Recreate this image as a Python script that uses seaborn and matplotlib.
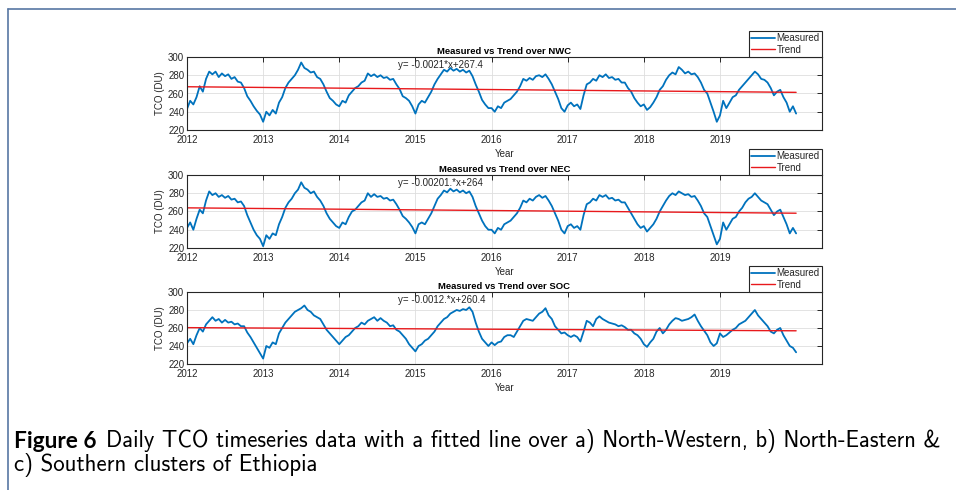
import numpy as np
import pandas as pd
import matplotlib
matplotlib.use("Agg")
import matplotlib.pyplot as plt
import seaborn as sns

# ---------------- data (semi-monthly readings, 2012.0 .. 2020.0) ----------------
nwc_values = [
    243, 252, 248, 256, 268, 262, 276, 284, 281, 284, 278, 282, 279, 281, 276, 278, 273, 272, 266, 257, 252, 246, 241, 237,
    229, 240, 236, 242, 238, 250, 256, 266, 272, 276, 280, 286, 294, 288, 286, 283, 284, 278, 276, 270, 262, 255, 252, 248,
    246, 252, 250, 258, 262, 266, 268, 272, 274, 282, 279, 281, 278, 280, 277, 278, 275, 276, 270, 265, 257, 255, 252, 246,
    238, 248, 252, 250, 256, 262, 270, 276, 281, 286, 284, 288, 285, 287, 284, 286, 283, 285, 279, 270, 262, 253, 248, 244,
    244, 240, 246, 244, 250, 252, 254, 258, 262, 268, 276, 274, 277, 275, 279, 280, 278, 281, 276, 270, 262, 254, 244, 240,
    247, 250, 246, 248, 243, 258, 270, 272, 276, 274, 280, 278, 281, 277, 278, 275, 276, 272, 272, 266, 262, 255, 250, 246,
    248, 242, 245, 250, 256, 264, 268, 275, 280, 283, 281, 289, 286, 282, 284, 281, 282, 278, 272, 264, 260, 250, 240, 229,
    236, 252, 244, 250, 256, 258, 264, 268, 272, 276, 280, 284, 281, 276, 275, 272, 266, 258, 262, 264, 256, 250, 240, 246, 238,
]
nec_values = [
    242, 248, 240, 252, 262, 258, 272, 282, 278, 280, 276, 278, 275, 277, 273, 274, 270, 271, 266, 256, 248, 240, 234, 230,
    222, 234, 230, 236, 234, 246, 254, 264, 270, 274, 280, 284, 292, 286, 284, 280, 282, 276, 272, 266, 258, 252, 248, 244,
    242, 248, 246, 254, 260, 262, 266, 270, 272, 280, 276, 279, 276, 277, 274, 275, 272, 273, 268, 262, 255, 252, 248, 243,
    236, 246, 248, 246, 252, 258, 266, 274, 278, 283, 281, 285, 282, 284, 281, 283, 280, 282, 276, 266, 258, 250, 244, 240,
    240, 236, 242, 240, 246, 248, 250, 254, 258, 264, 272, 270, 274, 272, 276, 278, 275, 277, 272, 266, 258, 250, 240, 236,
    244, 246, 242, 244, 240, 256, 268, 270, 274, 272, 278, 276, 278, 274, 275, 272, 273, 270, 270, 264, 258, 252, 246, 242,
    244, 238, 242, 246, 252, 260, 266, 272, 277, 280, 278, 282, 280, 278, 279, 276, 277, 272, 266, 258, 254, 244, 234, 224,
    230, 248, 240, 246, 252, 254, 260, 264, 270, 274, 276, 280, 276, 272, 270, 268, 262, 256, 260, 262, 254, 246, 236, 242, 236,
]
soc_values = [
    243, 248, 242, 252, 260, 256, 264, 268, 272, 268, 270, 266, 269, 266, 267, 264, 265, 262, 262, 255, 250, 244, 238, 232,
    226, 240, 238, 244, 242, 254, 260, 266, 270, 274, 278, 280, 282, 285, 280, 278, 274, 272, 270, 264, 258, 254, 250, 246,
    242, 246, 250, 252, 256, 260, 262, 266, 264, 268, 270, 272, 268, 271, 268, 266, 262, 263, 258, 256, 252, 248, 242, 238,
    234, 240, 242, 246, 248, 252, 256, 262, 266, 270, 272, 276, 278, 280, 279, 281, 280, 283, 278, 266, 256, 248, 244, 240,
    244, 241, 244, 245, 250, 252, 252, 250, 256, 262, 268, 270, 269, 268, 272, 276, 278, 282, 274, 270, 262, 258, 254, 255,
    252, 250, 252, 250, 245, 256, 268, 266, 262, 270, 273, 270, 268, 266, 265, 264, 262, 263, 261, 258, 258, 254, 252, 248,
    242, 239, 244, 248, 256, 260, 254, 258, 264, 268, 271, 270, 268, 269, 270, 272, 275, 268, 262, 257, 252, 244, 240, 243,
    254, 250, 252, 255, 258, 260, 264, 266, 268, 272, 276, 280, 274, 270, 266, 262, 256, 254, 258, 260, 252, 246, 240, 238, 233,
]
regions = ["NWC", "NEC", "SOC"]
slopes = [-0.0021, -0.00201, -0.0012]
intercepts = [267.4, 264.0, 260.4]
equations = ["y= -0.0021*x+267.4", "y= -0.00201.*x+264", "y= -0.0012.*x+260.4"]
year_ticks = [2012, 2013, 2014, 2015, 2016, 2017, 2018, 2019]
tco_ticks = [220, 240, 260, 280, 300]
caption_bold = "Figure 6"
caption_line1 = "Daily TCO timeseries data with a fitted line over a) North-Western, b) North-Eastern &"
caption_line2 = "c) Southern clusters of Ethiopia"

series = [nwc_values, nec_values, soc_values]

# ---------------- style ----------------
sns.set_theme(style="white")
plt.rcParams["font.family"] = ["Liberation Sans", "DejaVu Sans"]

W, H = 956, 490
fig = plt.figure(figsize=(W / 100, H / 100), dpi=100)
fig.patch.set_facecolor("white")

# frame lines (left & top) of the figure box
frame_col = "#5877a3"
fig.add_artist(plt.Line2D([8 / W, 8 / W], [0, 1 - 9 / H], color=frame_col, lw=1.2, transform=fig.transFigure))
fig.add_artist(plt.Line2D([8 / W, 1], [1 - 9 / H, 1 - 9 / H], color=frame_col, lw=1.2, transform=fig.transFigure))

# axes boxes in pixel coordinates (left, top, right, bottom)
boxes = [(187, 57, 822, 130), (187, 175, 822, 248), (187, 292, 822, 364)]

blue = "#0072BD"
red = "#E8191C"
dark = "#262626"

for i, (vals, name, m, b, eq, box) in enumerate(zip(series, regions, slopes, intercepts, equations, boxes)):
    l, t, r, btm = box
    ax = fig.add_axes([l / W, 1 - btm / H, (r - l) / W, (btm - t) / H])
    n = len(vals)
    tyear = 2012 + np.arange(n) / 24.0
    df = pd.DataFrame({"Year": tyear, "TCO": vals})
    days = (tyear - 2012) * 365.25
    dft = pd.DataFrame({"Year": tyear, "TCO": b + m * days})
    sns.lineplot(data=df, x="Year", y="TCO", ax=ax, color=blue, lw=1.3, label="Measured")
    sns.lineplot(data=dft, x="Year", y="TCO", ax=ax, color=red, lw=1.0, label="Trend")

    ax.set_xlim(2012, 2020.34)
    ax.set_ylim(220, 300)
    ax.set_xticks(year_ticks)
    ax.set_xticklabels([str(y) for y in year_ticks])
    ax.set_yticks(tco_ticks)
    ax.grid(True, color="#dedede", lw=0.6)
    ax.set_axisbelow(True)
    ax.tick_params(direction="in", length=3.5, width=0.7, colors=dark, labelsize=7,
                   top=True, right=True, labeltop=False, labelright=False, pad=2)
    ax.tick_params(axis="x", pad=3.5)
    for s in ax.spines.values():
        s.set_color(dark)
        s.set_linewidth(0.8)
        s.set_visible(True)
    ax.set_xlabel("Year", fontsize=7, color=dark, labelpad=3)
    ax.set_ylabel("TCO (DU)", fontsize=7, color=dark, labelpad=2)
    ax.set_title(f"Measured vs Trend over {name}", fontsize=6.8, fontweight="bold", color="black", pad=2.5)
    ax.text(2014.77, 291, eq, fontsize=7, color=dark, va="center", ha="left")
    leg = ax.legend(loc="lower right", bbox_to_anchor=(1.0, 1.0), borderaxespad=0.0,
                    fontsize=7, frameon=True, fancybox=False, framealpha=1,
                    edgecolor=dark, handlelength=2.4, handletextpad=0.2,
                    borderpad=0.25, labelspacing=0.15)
    leg.get_frame().set_linewidth(0.8)
    leg.set_zorder(10)

# caption
fig.text(14 / W, 1 - 441 / H, caption_bold, fontsize=16.3, fontweight="bold",
         family=["Lato", "DejaVu Sans"], va="center", ha="left", color="black")
fig.text(106 / W, 1 - 441 / H, caption_line1, fontsize=16.3, family=["cmss10", "DejaVu Sans"],
         va="center", ha="left", color="black")
fig.text(14 / W, 1 - 465 / H, caption_line2, fontsize=16.5, family=["cmss10", "DejaVu Sans"],
         va="center", ha="left", color="black")

fig.savefig("out.png", dpi=100, facecolor="white")
